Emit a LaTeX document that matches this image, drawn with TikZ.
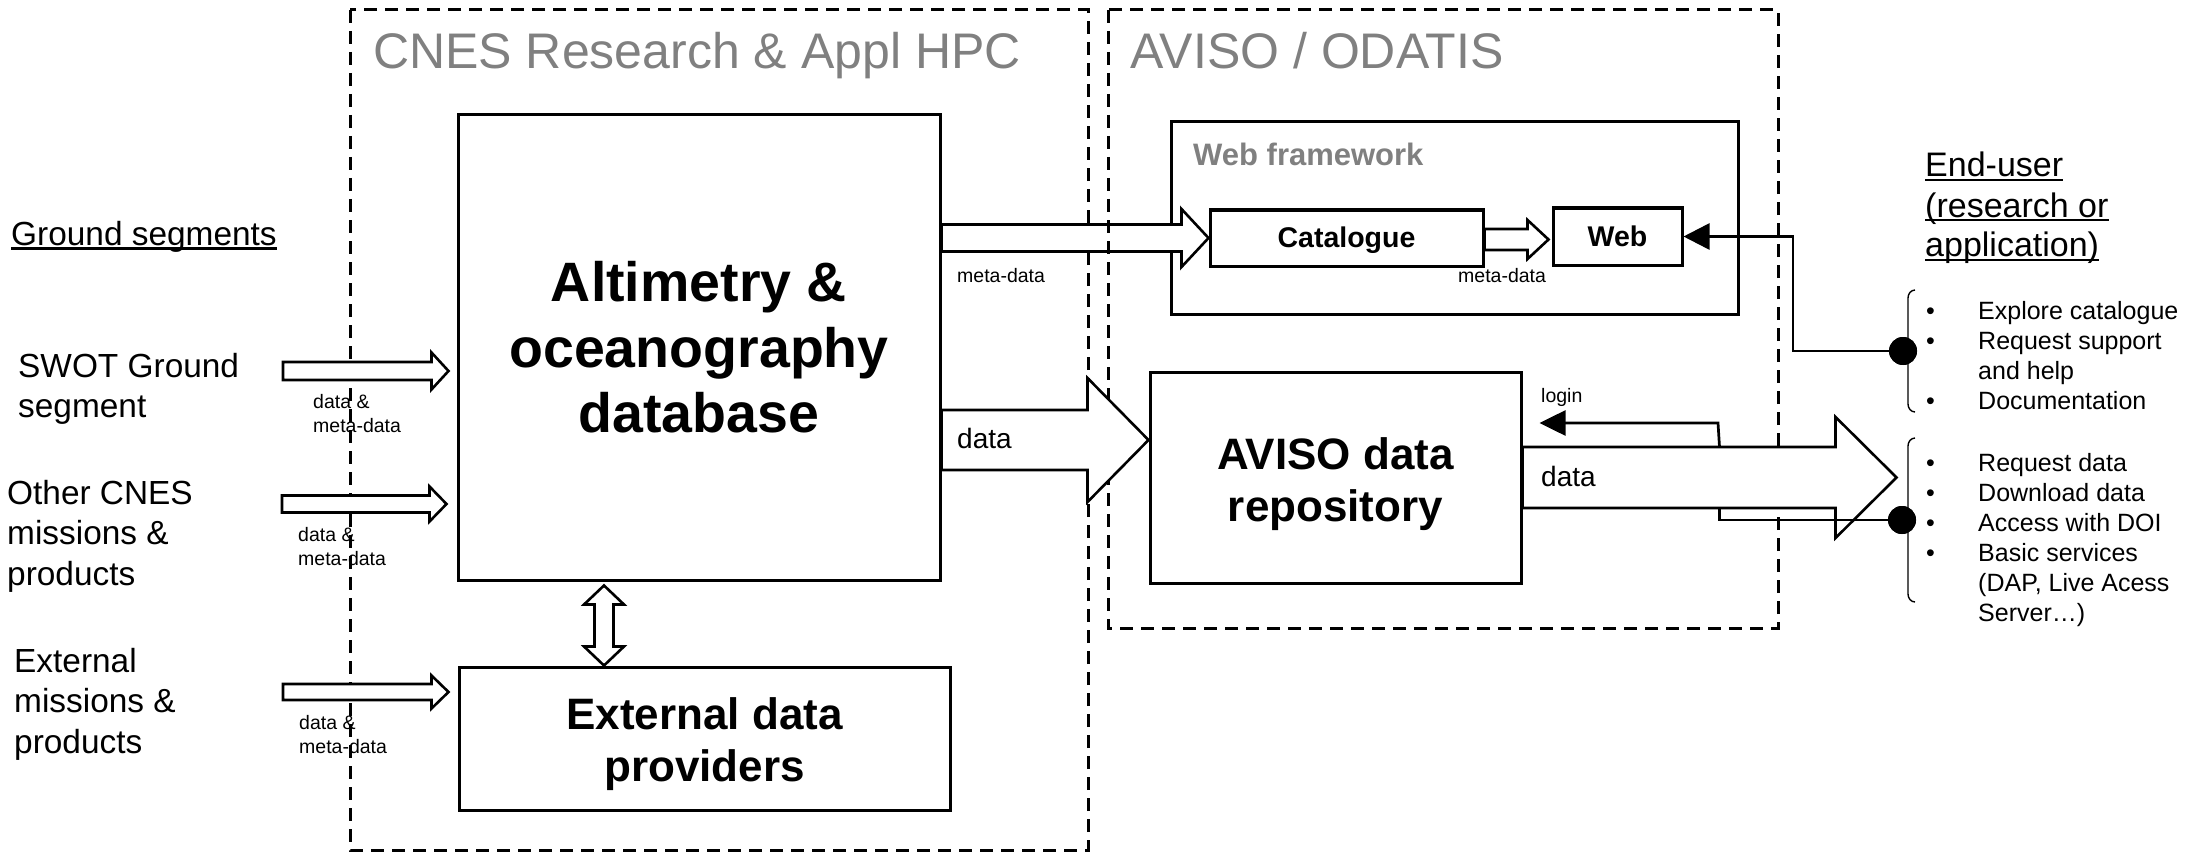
\documentclass[tikz,border=0pt]{standalone}
\usepackage{fontspec}
\setmainfont{Liberation Sans}
\usetikzlibrary{calc,arrows.meta}
\definecolor{titlegray}{RGB}{128,128,128}
\newcommand\fs[2]{\fontsize{#1}{#2}\selectfont}
\newcommand\ulx[1]{\setbox0=\hbox{#1}\rlap{\rule[-4.5pt]{\wd0}{2.5pt}}\box0}
\newcommand\linesl[1]{\begin{tabular}[t]{@{}l@{}}#1\end{tabular}}
\newcommand\bl{\makebox[52pt][l]{\textbullet}}
\newcommand\barrow[5]{%
  \draw[blockarrow] ($(#1)+(0,#3)$) -- ($(#2)+(-#5,#3)$) -- ($(#2)+(-#5,#4)$) -- (#2)
   -- ($(#2)+(-#5,-#4)$) -- ($(#2)+(-#5,-#3)$) -- ($(#1)+(0,-#3)$) -- cycle;}
\tikzset{
  box/.style={draw, line width=3pt, fill=white, inner sep=0pt, align=center},
  bigtext/.style={font=\fs{55.5}{65.5}\bfseries},
  midtext/.style={font=\fs{44}{52}\bfseries, align=center, inner sep=0pt},
  smallbox/.style={font=\fs{28.5}{34}\bfseries},
  container/.style={draw, line width=3pt, dash pattern=on 13pt off 8pt},
  blockarrow/.style={draw, fill=white, line width=2.6pt, line join=miter},
  conn/.style={draw, line width=2.7pt},
  thin/.style={draw, line width=1.4pt},
  lbl/.style={inner sep=0pt, anchor=base west},
  small/.style={lbl, font=\fs{19.5}{24}},
  side/.style={lbl, font=\fs{33.4}{40.5}},
  title/.style={lbl, font=\fs{50}{60}, text=titlegray},
  dot/.style={circle, fill=black, inner sep=0pt, minimum size=28pt},
}
\begin{document}
\begin{tikzpicture}[x=1pt,y=-1pt]
\useasboundingbox (0,0) rectangle (2194,853);

% ---------- main boxes ----------
\node[box, bigtext, minimum width=482pt, minimum height=465pt] (db) at (699,347.5)
  {Altimetry \&\\oceanography\\database};
\node[box, minimum width=491pt, minimum height=143pt] (ext) at (704.5,738.5) {};
\node[midtext] (exttext) at ($(ext)+(0,5.5)$) {External data\\providers};
\node[box, minimum width=371pt, minimum height=211pt] (repo) at (1335.5,477.5) {};
\node[midtext] (repotext) at ($(repo)+(0,7)$) {AVISO data\\repository};

% ---------- containers / titles ----------
\draw[container] (350,10) rectangle (1088,850);
\node[title] (cnestitle) at (373,69) {CNES Research \& Appl HPC};

% ---------- input arrows ----------
\coordinate (s1) at (283,371);
\coordinate (s2) at (282,504);
\coordinate (s3) at (283,692);
\coordinate (t1) at ($(db.west |- s1)+(-8,0)$);
\coordinate (t2) at ($(db.west |- s2)+(-10,0)$);
\coordinate (t3) at ($(ext.west |- s3)+(-9,0)$);
\barrow{s1}{t1}{9}{18.5}{17}
\barrow{s2}{t2}{8.5}{17.5}{17}
\barrow{s3}{t3}{8}{16.5}{17}

% ---------- web framework ----------
\node[draw, line width=3pt, minimum width=567pt, minimum height=192pt, inner sep=0pt] (wf) at (1454.5,218) {};
\node[lbl, font=\fs{31}{36}\bfseries, text=titlegray] (wftitle) at (1193,166) {Web framework};
\node[box, minimum width=273pt, minimum height=56pt] (cat) at (1346.5,238) {};
\node[smallbox, inner sep=0pt] (cattext) at ($(cat)+(0,2.5)$) {Catalogue};
\node[box, smallbox, minimum width=129pt, minimum height=57pt] (web) at (1617.5,236.5) {Web};

% DB -> Catalogue
\coordinate (dc) at (db.east |- cat.west);
\barrow{dc}{cat.west}{13.5}{29}{27}
\draw[container] (1108,10) rectangle (1778,628);
\node[title] (avisotitle) at (1130,69) {AVISO / ODATIS};

% Catalogue -> Web
\coordinate (cw) at ($(cat.east)+(0,1.5)$);
\coordinate (cwt) at ($(web.west |- cw)+(-3,0)$);
\barrow{cw}{cwt}{10.5}{19.5}{21}

% DB -> repository
\coordinate (dr) at ($(db.east)+(0,92.5)$);
\coordinate (drt) at (repo.west |- dr);
\barrow{dr}{drt}{30}{62}{61}

% repository -> end user
\coordinate (ru) at (repo.east);
\coordinate (rut) at ($(repo.east)+(374,0)$);
\barrow{ru}{rut}{30.5}{60.5}{61}

% vertical double arrow
\coordinate (vt) at ($(db.south)+(-95,4)$);
\coordinate (vb) at (vt |- ext.north);
\draw[blockarrow] (vt) -- ++(20,19) -- ++(-10.5,0) -- ($(vb)+(9.5,-19)$) -- ++(10.5,0) -- (vb)
  -- ++(-20,-19) -- ++(10.5,0) -- ($(vt)+(-9.5,19)$) -- ++(-10.5,0) -- cycle;

% ---------- end-user side ----------
\node[dot] (c1) at (1903,351) {};
\node[dot] (c2) at (1902,520) {};
\draw[thin] (1915,290) to[out=180,in=90] (1908,298) -- (1908,404) to[out=-90,in=180] (1915,412);
\draw[thin] (1915,438) to[out=180,in=90] (1908,446) -- (1908,594) to[out=-90,in=180] (1915,602);

\coordinate (wx) at (1793,300);
\draw[conn, -{Triangle[length=26pt,width=26pt]}] (c1.center) -- (c1 -| wx) -- (wx |- web.east) -- (web.east);

\coordinate (lgy) at (1718,423);
\coordinate (lg) at ($(repo.east)+(197,-30.5)$);
\draw[conn, -{Triangle[length=26pt,width=25pt]}] (lg) -- (lgy) -- ($(repo.east |- lgy)+(17,0)$);
\coordinate (lo) at ($(repo.east)+(197,30.5)$);
\draw[conn] (lo) |- (c2.center);
\node[dot] at (c2) {};
\node[dot] at (c1) {};

% ---------- labels ----------
\node[side] (gs) at (11,245) {\ulx{Ground segments}};
\node[side] (swot) at (18,377) {\linesl{SWOT Ground\\segment}};
\node[side] (other) at (7,504) {\linesl{Other CNES\\missions \&\\products}};
\node[side] (extm) at (14,672) {\linesl{External\\missions \&\\products}};

\node[small] (l1) at (313,408) {\linesl{data \&\\meta-data}};
\node[small] (l2) at (298,541) {\linesl{data \&\\meta-data}};
\node[small] (l3) at (299,729) {\linesl{data \&\\meta-data}};
\node[small] (lm1) at (957,282) {meta-data};
\node[small] (lm2) at (1458,282) {meta-data};
\node[small] (llogin) at (1541,402) {login};
\node[lbl, font=\fs{28}{32}] (ld1) at (957,448) {data};
\node[lbl, font=\fs{28}{32}] (ld2) at (1541,486) {data};

\node[lbl, font=\fs{34}{40}] (eu) at (1925,177)
  {\linesl{\ulx{End-user}\\\ulx{(research or}\\\ulx{application)}}};
\node[lbl, font=\fs{25}{30}] (list1) at (1926,319.5)
  {\begin{tabular}[t]{@{}l@{}l@{}}\bl&Explore catalogue\\\bl&Request support\\&and help\\\bl&Documentation\end{tabular}};
\node[lbl, font=\fs{25}{30}] (list2) at (1926,471)
  {\begin{tabular}[t]{@{}l@{}l@{}}\bl&Request data\\\bl&Download data\\\bl&Access with DOI\\\bl&Basic services\\&(DAP, Live Acess\\&Server…)\end{tabular}};
\end{tikzpicture}
\end{document}
